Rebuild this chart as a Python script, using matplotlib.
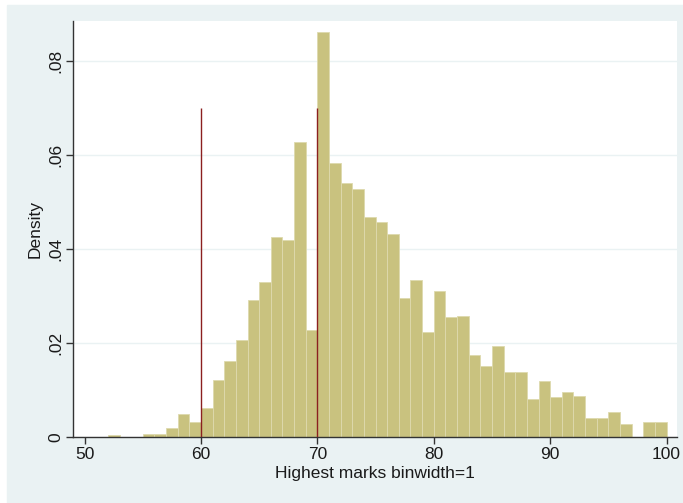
# histogram of highest marks (density, binwidth = 1), Stata look
import matplotlib
matplotlib.use("Agg")
import matplotlib.pyplot as plt
from matplotlib.patches import Rectangle

plt.rcParams["font.family"] = ["Liberation Sans", "DejaVu Sans"]

# bin left edges and density per bin
bin_left = list(range(52, 100))
density = [0.0004, 0, 0, 0.0007, 0.0007, 0.0020, 0.0049, 0.0031,
           0.0061, 0.0122, 0.0161, 0.0207, 0.0291, 0.0330, 0.0426, 0.0419,
           0.0628, 0.0228, 0.0862, 0.0582, 0.0541, 0.0528, 0.0467, 0.0458,
           0.0431, 0.0296, 0.0334, 0.0223, 0.0311, 0.0255, 0.0257, 0.0174,
           0.0151, 0.0193, 0.0139, 0.0139, 0.0081, 0.0120, 0.0086, 0.0095,
           0.0088, 0.0041, 0.0041, 0.0054, 0.0028, 0, 0.0032, 0.0032]
cutoffs = [60, 70]
cutoff_top = 0.07
x_ticks = [50, 60, 70, 80, 90, 100]
y_ticks = [0, 0.02, 0.04, 0.06, 0.08]
y_labels = ["0", ".02", ".04", ".06", ".08"]

bg = "#EAF2F3"
fig = plt.figure(figsize=(6.83, 5.03), dpi=100)
# light stata background with a thin white border
fig.patches.append(Rectangle((7 / 683, 0), 676 / 683, 498 / 503,
                             transform=fig.transFigure, color=bg, zorder=-10))
ax = fig.add_axes([73 / 683, 66 / 503, 604 / 683, 416 / 503])
ax.set_facecolor("white")

keep = [(b, d) for b, d in zip(bin_left, density) if d > 0]
ax.bar([b for b, _ in keep], [d for _, d in keep], width=1, align="edge",
       color="#C9C27F", edgecolor="#DEDAAE", linewidth=0.6, zorder=2)
ax.vlines(cutoffs, 0, cutoff_top, color="#8B2020", linewidth=1, zorder=3)

ax.set_xlim(49.0, 100.9)
ax.set_ylim(0, 0.0885)
ax.set_xticks(x_ticks)
ax.set_yticks(y_ticks)
ax.set_yticklabels(y_labels, rotation=90, va="center")
ax.grid(axis="y", color=bg, linewidth=1, zorder=0)
ax.set_axisbelow(True)

for s in ["top", "right"]:
    ax.spines[s].set_visible(False)
for s in ["left", "bottom"]:
    ax.spines[s].set_color("#333333")
    ax.spines[s].set_linewidth(1)
ax.tick_params(axis="both", length=5, width=1, color="#333333",
               labelsize=12.5, labelcolor="#1a1a1a")
ax.tick_params(axis="x", pad=2)
ax.tick_params(axis="y", pad=2)

ax.set_xlabel("Highest marks binwidth=1", fontsize=12.5, color="#1a1a1a", labelpad=3)
ax.set_ylabel("Density", fontsize=12.5, color="#1a1a1a", labelpad=4)

plt.savefig("out.png", dpi=100)
plt.close()
